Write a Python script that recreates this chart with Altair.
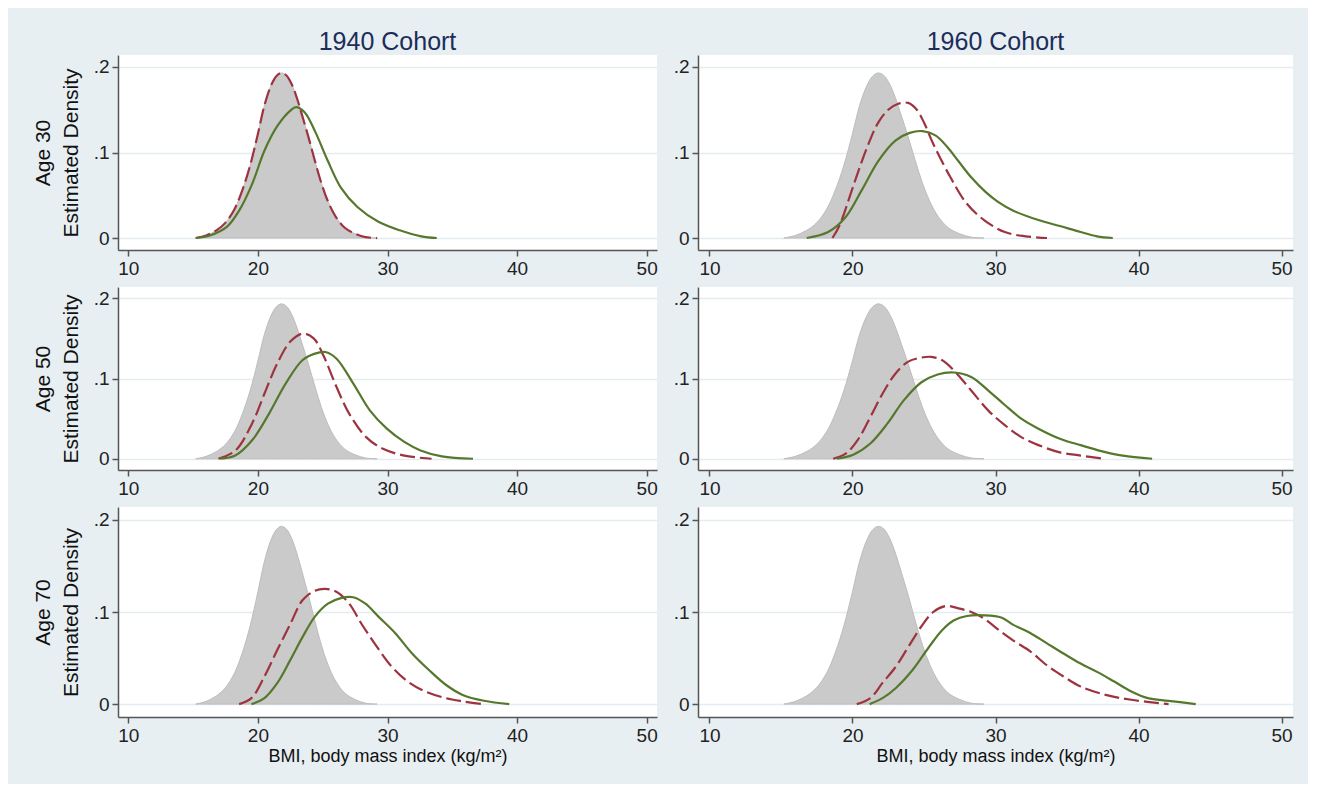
import altair as alt
import pandas as pd

# ---------------- data ----------------
# Reference distribution (grey area, identical in every panel)
ref_x = [15.2, 16.0, 16.8, 17.5, 18.2, 18.8, 19.4, 20.0, 20.5, 21.0, 21.4, 21.8, 22.2,
         22.6, 23.0, 23.4, 23.9, 24.4, 24.9, 25.4, 26.0, 26.7, 27.5, 28.3, 29.2]
ref_y = [0.0, 0.003, 0.009, 0.018, 0.034, 0.056, 0.085, 0.122, 0.155, 0.178, 0.189, 0.193, 0.190,
         0.180, 0.164, 0.144, 0.118, 0.090, 0.064, 0.043, 0.025, 0.012, 0.005, 0.001, 0.0]

# 1940 cohort, age 30
red_40_30_x = [15.2, 16.0, 16.8, 17.5, 18.2, 18.8, 19.4, 20.0, 20.5, 21.0, 21.4, 21.8, 22.2,
               22.6, 23.0, 23.4, 23.9, 24.4, 24.9, 25.4, 26.0, 26.7, 27.5, 28.3, 29.2]
red_40_30_y = [0.0, 0.003, 0.009, 0.018, 0.034, 0.056, 0.085, 0.122, 0.155, 0.178, 0.189, 0.193, 0.190,
               0.180, 0.164, 0.144, 0.118, 0.090, 0.064, 0.043, 0.025, 0.012, 0.005, 0.001, 0.0]
grn_40_30_x = [15.2, 16.3, 17.6, 18.55, 19.55, 20.5, 21.5, 22.5, 22.95, 23.6, 24.4, 25.4, 26.4,
               27.7, 29.3, 30.95, 32.6, 33.8]
grn_40_30_y = [0.0, 0.003, 0.013, 0.032, 0.063, 0.102, 0.131, 0.149, 0.153, 0.147, 0.125, 0.09, 0.059,
               0.036, 0.019, 0.009, 0.002, 0.0]

# 1960 cohort, age 30
red_60_30_x = [18.6, 19.1, 20.1, 21.0, 21.8, 22.5, 23.2, 23.9, 24.5, 25.0, 25.65, 26.85, 28.0,
               29.2, 30.65, 32.1, 33.6]
red_60_30_y = [0.0, 0.015, 0.063, 0.105, 0.135, 0.150, 0.157, 0.158, 0.150, 0.135, 0.11, 0.071, 0.04,
               0.021, 0.007, 0.002, 0.0]
grn_60_30_x = [16.8, 18.3, 19.5, 20.65, 21.8, 23.0, 24.0, 24.9, 25.8, 26.6, 27.4, 28.3, 29.3, 30.2,
               31.25, 33.0, 34.5, 35.95, 37.1, 38.2]
grn_60_30_y = [0.0, 0.007, 0.024, 0.056, 0.09, 0.114, 0.123, 0.125, 0.120, 0.107, 0.090, 0.071, 0.054,
               0.042, 0.032, 0.021, 0.014, 0.007, 0.002, 0.0]

# 1940 cohort, age 50
red_40_50_x = [16.95, 18.25, 19.55, 20.5, 21.5, 22.5, 23.45, 24.3, 25.1, 26.05, 27.05, 28.35,
               29.65, 31.3, 33.4]
red_40_50_y = [0.0, 0.01, 0.044, 0.081, 0.119, 0.146, 0.156, 0.15, 0.127, 0.09, 0.056, 0.027,
               0.0125, 0.004, 0.0]
grn_40_50_x = [17.1, 18.25, 19.55, 20.85, 22.15, 23.45, 24.4, 25.2, 26.05, 27.35, 28.65, 29.95,
               31.3, 32.55, 34.2, 36.6]
grn_40_50_y = [0.0, 0.004, 0.023, 0.056, 0.094, 0.123, 0.131, 0.133, 0.125, 0.094, 0.06, 0.0375,
               0.021, 0.0104, 0.003, 0.0]

# 1960 cohort, age 50
red_60_50_x = [18.65, 19.5, 20.35, 21.25, 22.1, 23.0, 23.9, 24.8, 25.5, 26.25, 27.1, 28.3, 29.5,
               30.65, 31.8, 33.0, 34.5, 35.95, 37.55]
red_60_50_y = [0.0, 0.006, 0.023, 0.052, 0.081, 0.106, 0.121, 0.126, 0.127, 0.123, 0.11, 0.085, 0.06,
               0.042, 0.027, 0.017, 0.008, 0.004, 0.0]
grn_60_50_x = [18.9, 20.05, 21.25, 22.45, 23.6, 24.8, 25.95, 27.1, 28.3, 29.5, 30.65, 31.8, 33.0,
               34.5, 35.95, 37.4, 38.9, 40.95]
grn_60_50_y = [0.0, 0.005, 0.019, 0.044, 0.073, 0.095, 0.105, 0.1075, 0.102, 0.085, 0.067, 0.05, 0.0375,
               0.025, 0.017, 0.0096, 0.004, 0.0]

# 1940 cohort, age 70
red_40_70_x = [18.55, 19.5, 20.5, 21.5, 22.5, 23.45, 24.4, 25.2, 26.05, 27.05, 28.0, 29.0, 30.3,
               31.6, 32.9, 34.5, 35.8, 37.3]
red_40_70_y = [0.0, 0.0065, 0.03, 0.059, 0.087, 0.113, 0.123, 0.125, 0.122, 0.109, 0.087, 0.066, 0.041,
               0.024, 0.0137, 0.0065, 0.003, 0.0]
grn_40_70_x = [19.5, 20.5, 21.5, 22.5, 23.45, 24.4, 25.4, 26.4, 27.35, 28.3, 29.3, 30.6, 31.9,
               33.2, 34.5, 35.8, 37.45, 39.4]
grn_40_70_y = [0.0, 0.0065, 0.023, 0.048, 0.073, 0.095, 0.109, 0.115, 0.116, 0.109, 0.095, 0.077, 0.055,
               0.037, 0.021, 0.01, 0.0036, 0.0]

# 1960 cohort, age 70
red_60_70_x = [20.3, 21.25, 22.1, 23.0, 23.9, 24.8, 25.65, 26.55, 27.4, 28.3, 29.2, 30.1, 31.25,
               32.45, 33.6, 34.75, 35.95, 37.7, 39.5, 42.1]
red_60_70_y = [0.0, 0.0065, 0.023, 0.04, 0.062, 0.084, 0.1, 0.1065, 0.104, 0.1, 0.093, 0.082, 0.069,
               0.057, 0.042, 0.03, 0.019, 0.01, 0.0047, 0.0]
grn_60_70_x = [21.2, 22.1, 23.0, 24.2, 25.35, 26.25, 27.1, 28.0, 29.2, 30.4, 31.25, 32.45, 33.6,
               34.75, 35.95, 37.1, 38.3, 39.5, 40.65, 42.1, 44.0]
grn_60_70_y = [0.0, 0.0065, 0.017, 0.037, 0.062, 0.08, 0.091, 0.0957, 0.0964, 0.094, 0.086, 0.077, 0.066,
               0.055, 0.044, 0.035, 0.0245, 0.0137, 0.0065, 0.0036, 0.0]

cohorts = ["1940 Cohort", "1960 Cohort"]
ages = ["Age 30", "Age 50", "Age 70"]
x_ticks = [10, 20, 30, 40, 50]
y_ticks = [0, 0.1, 0.2]
x_title = "BMI, body mass index (kg/m\u00b2)"

# ---------------- styling ----------------
FONT = "Liberation Sans"
BG = "#e8eff2"
GRID = "#e3ecf1"
AXIS = "#555555"
RED = "#9e3340"
GREEN = "#56782d"
GREY = "#cacaca"
TITLE = "#1c2d5a"
CURVE = "catmull-rom"

col_w = [539, 595]
row_h = [195, 183, 210]

ref_df = pd.DataFrame({"x": ref_x, "y": ref_y, "base": [0.0] * len(ref_x)})


def panel(rx, ry, gx, gy, row, col):
    xscale = alt.Scale(domain=[9.2, 50.8], nice=False, zero=False)
    yscale = alt.Scale(domain=[-0.014, 0.214], nice=False, zero=False)
    xaxis = alt.Axis(values=x_ticks, grid=False, title=x_title if row == 2 else None,
                     labelFontSize=19, tickSize=6, labelPadding=3, titleFontSize=18,
                     titleFontWeight="normal", titlePadding=2, titleColor="#111111")
    yaxis = alt.Axis(values=y_ticks, grid=True, gridColor=GRID, gridWidth=1.5,
                     labelExpr="datum.value == 0 ? '0' : replace(format(datum.value, '.1f'), '0.', '.')",
                     title=[ages[row], "Estimated Density"] if col == 0 else None,
                     labelFontSize=19, tickSize=6, labelPadding=3, titleFontSize=21,
                     titleFontWeight="normal", titleLineHeight=28, titlePadding=12,
                     titleColor="#111111")
    area = alt.Chart(ref_df).mark_area(color=GREY, stroke="#bdbdbd", strokeWidth=1,
                                       interpolate=CURVE).encode(
        x=alt.X("x:Q", scale=xscale, axis=xaxis),
        y=alt.Y("y:Q", scale=yscale, axis=yaxis),
        y2="base:Q",
    )
    red = alt.Chart(pd.DataFrame({"x": rx, "y": ry})).mark_line(
        color=RED, strokeWidth=2.2, strokeDash=[15, 5], interpolate=CURVE).encode(
        x="x:Q", y="y:Q")
    grn = alt.Chart(pd.DataFrame({"x": gx, "y": gy})).mark_line(
        color=GREEN, strokeWidth=2.2, interpolate=CURVE).encode(
        x="x:Q", y="y:Q")
    ch = alt.layer(area, red, grn).properties(width=col_w[col], height=row_h[row])
    if row == 0:
        ch = ch.properties(title=alt.TitleParams(cohorts[col], fontSize=25, color=TITLE,
                                                 fontWeight="normal", font=FONT,
                                                 anchor="middle", offset=0))
    return ch


series = [
    [(red_40_30_x, red_40_30_y, grn_40_30_x, grn_40_30_y),
     (red_60_30_x, red_60_30_y, grn_60_30_x, grn_60_30_y)],
    [(red_40_50_x, red_40_50_y, grn_40_50_x, grn_40_50_y),
     (red_60_50_x, red_60_50_y, grn_60_50_x, grn_60_50_y)],
    [(red_40_70_x, red_40_70_y, grn_40_70_x, grn_40_70_y),
     (red_60_70_x, red_60_70_y, grn_60_70_x, grn_60_70_y)],
]

cells = [panel(*series[r][c], row=r, col=c) for r in range(3) for c in range(2)]

chart = alt.concat(*cells, columns=2, spacing={"row": 37, "column": 41},
                   bounds="flush", align="each").properties(
    padding={"left": 24, "top": 22, "right": 15, "bottom": 19},
).configure(
    background=BG, font=FONT
).configure_view(
    fill="white", strokeWidth=0
).configure_axis(
    domainColor=AXIS, tickColor=AXIS, domainWidth=1.5, tickWidth=1.5,
    labelColor="#222222", labelFont=FONT, titleFont=FONT
)

chart.save("out.html", embed_options={"renderer": "svg", "actions": False})
